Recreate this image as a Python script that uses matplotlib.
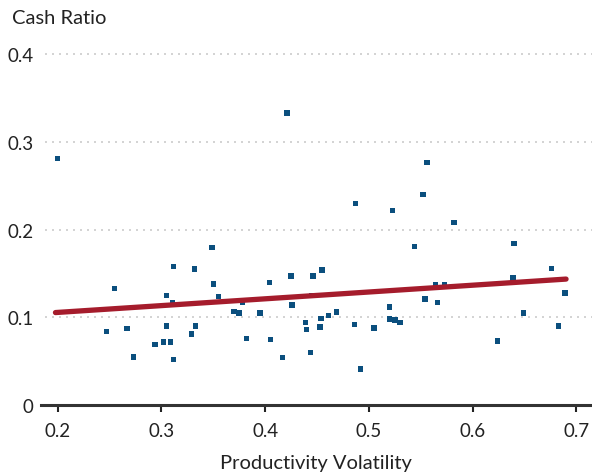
import matplotlib
matplotlib.use("Agg")
import matplotlib.pyplot as plt

# Data
vol = [0.200, 0.255, 0.247, 0.267, 0.273, 0.294, 0.302, 0.305, 0.305, 0.311, 0.309,
       0.312, 0.312, 0.329, 0.332, 0.333, 0.349, 0.350, 0.355, 0.370, 0.375,
       0.378, 0.382, 0.395, 0.404, 0.405, 0.417, 0.421, 0.425, 0.426, 0.439,
       0.440, 0.444, 0.445, 0.446, 0.455, 0.453, 0.454, 0.461, 0.469, 0.486,
       0.487, 0.492, 0.505, 0.520, 0.520, 0.523, 0.525, 0.530, 0.544, 0.552,
       0.556, 0.554, 0.564, 0.566, 0.573, 0.582, 0.624, 0.639, 0.640, 0.649,
       0.676, 0.683, 0.689]
cash = [0.281, 0.133, 0.084, 0.087, 0.055, 0.069, 0.072, 0.090, 0.125, 0.117, 0.072,
        0.052, 0.158, 0.081, 0.155, 0.090, 0.180, 0.138, 0.124, 0.107, 0.105,
        0.117, 0.076, 0.105, 0.140, 0.075, 0.054, 0.333, 0.147, 0.114, 0.0945,
        0.0865, 0.060, 0.125, 0.147, 0.154, 0.089, 0.099, 0.102, 0.106, 0.092,
        0.230, 0.041, 0.088, 0.112, 0.098, 0.222, 0.097, 0.094, 0.181, 0.240,
        0.277, 0.121, 0.137, 0.117, 0.137, 0.208, 0.073, 0.145, 0.184, 0.105,
        0.156, 0.090, 0.128]

fit_x = [0.198, 0.690]
fit_y = [0.1055, 0.1437]

x_ticks = [0.2, 0.3, 0.4, 0.5, 0.6, 0.7]
x_ticklabels = ["0.2", "0.3", "0.4", "0.5", "0.6", "0.7"]
y_ticks = [0, 0.1, 0.2, 0.3, 0.4]
y_ticklabels = ["0", "0.1", "0.2", "0.3", "0.4"]

plt.rcParams['font.family'] = ['Lato', 'DejaVu Sans']

fig = plt.figure(figsize=(5.92, 4.77), dpi=100)
ax = fig.add_axes([0.0688, 0.1488, 0.9312, 0.757])

ax.set_xlim(0.1838, 0.715)
ax.set_ylim(0, 0.412)

for yv in y_ticks[1:]:
    ax.axhline(yv, xmin=0.008, xmax=1, color='#cccccc', lw=1.2,
               linestyle=(0, (1.2, 3.0)), zorder=0)

ax.scatter(vol, cash, marker='s', s=15, color='#0b4f7e', edgecolors='none', zorder=3)
ax.plot(fit_x, fit_y, color='#a51c2c', lw=3.8, solid_capstyle='round', zorder=4)

ax.set_xticks(x_ticks)
ax.set_xticklabels(x_ticklabels)
ax.set_yticks(y_ticks)
ax.set_yticklabels(y_ticklabels)

for s in ['top', 'right', 'left']:
    ax.spines[s].set_visible(False)
ax.spines['bottom'].set_color('#333333')
ax.spines['bottom'].set_linewidth(2.2)

ax.tick_params(axis='x', direction='out', length=5, width=1.5, color='#222222',
               labelsize=13.5, labelcolor='#222222', pad=7)
ax.tick_params(axis='y', length=0, labelsize=13.5, labelcolor='#222222', pad=5)

ax.set_xlabel("Productivity Volatility", fontsize=14.5, color='#222222', labelpad=11)
fig.text(12/592, 1-19/477, "Cash Ratio", fontsize=14.5, color='#222222',
         ha='left', va='center')

fig.savefig("out.png", dpi=100)
